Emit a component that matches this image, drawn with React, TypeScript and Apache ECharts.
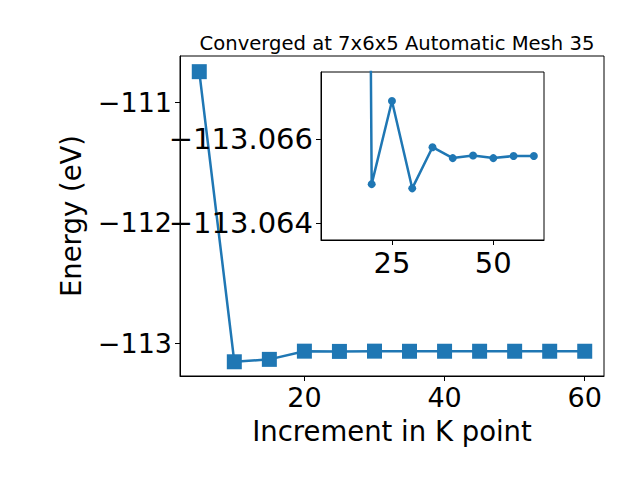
import React, { useEffect, useRef } from "react";
import * as echarts from "echarts";

const kPoints = [5, 10, 15, 20, 25, 30, 35, 40, 45, 50, 55, 60];
const energies = [
  -110.746, -113.153, -113.133, -113.06493, -113.06691, -113.06483, -113.06581,
  -113.06555, -113.06561, -113.06555, -113.0656, -113.0656,
];
const mainXTicks = [20, 40, 60];
const mainYTicks = [-113, -112, -111];
const insetXTicks = [25, 50];
const insetYTicks = [-113.066, -113.064];
const titleText = "Converged at 7x6x5 Automatic Mesh 35";
const xName = "Increment in K point";
const yName = "Energy (eV)";

const C = "#1f77b4";
const FONT = "DejaVu Sans";

const minusFmt = (d: number) => (v: number) =>
  (v < 0 ? "\u2212" : "") + Math.abs(v).toFixed(d);

export default function App() {
  const ref = useRef<HTMLDivElement>(null);
  useEffect(() => {
    if (!ref.current) return;
    const chart = echarts.init(ref.current, null, { renderer: "svg" });
    const mainData = kPoints.map((k, i) => [k, energies[i]]);
    const insetData = kPoints
      .map((k, i) => [k, energies[i]])
      .filter((p) => p[0] >= 10);
    const axisCommon = {
      axisLine: { show: true, lineStyle: { color: "#000", width: 1 } },
      axisTick: { show: true, inside: false, length: 5, lineStyle: { color: "#000" } },
      splitLine: { show: false },
    };
    chart.setOption({
      animation: false,
      backgroundColor: "#fff",
      title: {
        text: titleText,
        left: 392,
        top: 28,
        textAlign: "center",
        textStyle: { fontFamily: FONT, fontSize: 19.6, fontWeight: "normal", color: "#000" },
      },
      grid: [
        { left: 180, top: 56, right: 36, bottom: 104, show: true, borderColor: "#000", borderWidth: 1, backgroundColor: "transparent", containLabel: false },
        { left: 321, top: 72, width: 223, height: 168, show: true, borderColor: "#000", borderWidth: 1, backgroundColor: "#fff", containLabel: false, z: 5 },
      ],
      xAxis: [
        {
          type: "value",
          gridIndex: 0,
          min: 2.25,
          max: 62.75,
          ...axisCommon,
          axisTick: { ...axisCommon.axisTick, customValues: mainXTicks },
          axisLabel: { customValues: mainXTicks, fontFamily: FONT, fontSize: 27, color: "#000", margin: 8 },
          name: xName,
          nameLocation: "middle",
          nameGap: 41,
          nameTextStyle: { fontFamily: FONT, fontSize: 27.5, color: "#000", verticalAlign: "top" },
        },
        {
          type: "value",
          gridIndex: 1,
          min: 7.5,
          max: 62.5,
          ...axisCommon,
          axisTick: { ...axisCommon.axisTick, customValues: insetXTicks },
          axisLabel: { customValues: insetXTicks, fontFamily: FONT, fontSize: 29, color: "#000", margin: 8 },
          z: 5,
        },
      ],
      yAxis: [
        {
          type: "value",
          gridIndex: 0,
          min: -113.271,
          max: -110.616,
          ...axisCommon,
          axisTick: { ...axisCommon.axisTick, customValues: mainYTicks },
          axisLabel: { customValues: mainYTicks, fontFamily: FONT, fontSize: 27, color: "#000", margin: 8, formatter: minusFmt(0) },
          name: yName,
          nameLocation: "middle",
          nameGap: 95,
          nameRotate: 90,
          nameTextStyle: { fontFamily: FONT, fontSize: 27.5, color: "#000" },
        },
        {
          type: "value",
          gridIndex: 1,
          inverse: true,
          min: -113.0676,
          max: -113.0636,
          ...axisCommon,
          axisTick: { ...axisCommon.axisTick, customValues: insetYTicks },
          axisLabel: { customValues: insetYTicks, fontFamily: FONT, fontSize: 29, color: "#000", margin: 8, formatter: minusFmt(3) },
          z: 5,
        },
      ],
      series: [
        {
          type: "line",
          xAxisIndex: 0,
          yAxisIndex: 0,
          data: mainData,
          symbol: "rect",
          symbolSize: 15,
          lineStyle: { color: C, width: 2.5 },
          itemStyle: { color: C },
          clip: false,
          z: 2,
        },
        {
          type: "line",
          xAxisIndex: 1,
          yAxisIndex: 1,
          data: insetData,
          symbol: "circle",
          symbolSize: 8,
          showSymbol: true,
          lineStyle: { color: C, width: 2.5 },
          itemStyle: { color: C },
          clip: true,
          z: 6,
        },
      ],
    });
    return () => chart.dispose();
  }, []);
  return <div ref={ref} style={{ width: 640, height: 480, position: "absolute", left: 0, top: 0 }} />;
}
